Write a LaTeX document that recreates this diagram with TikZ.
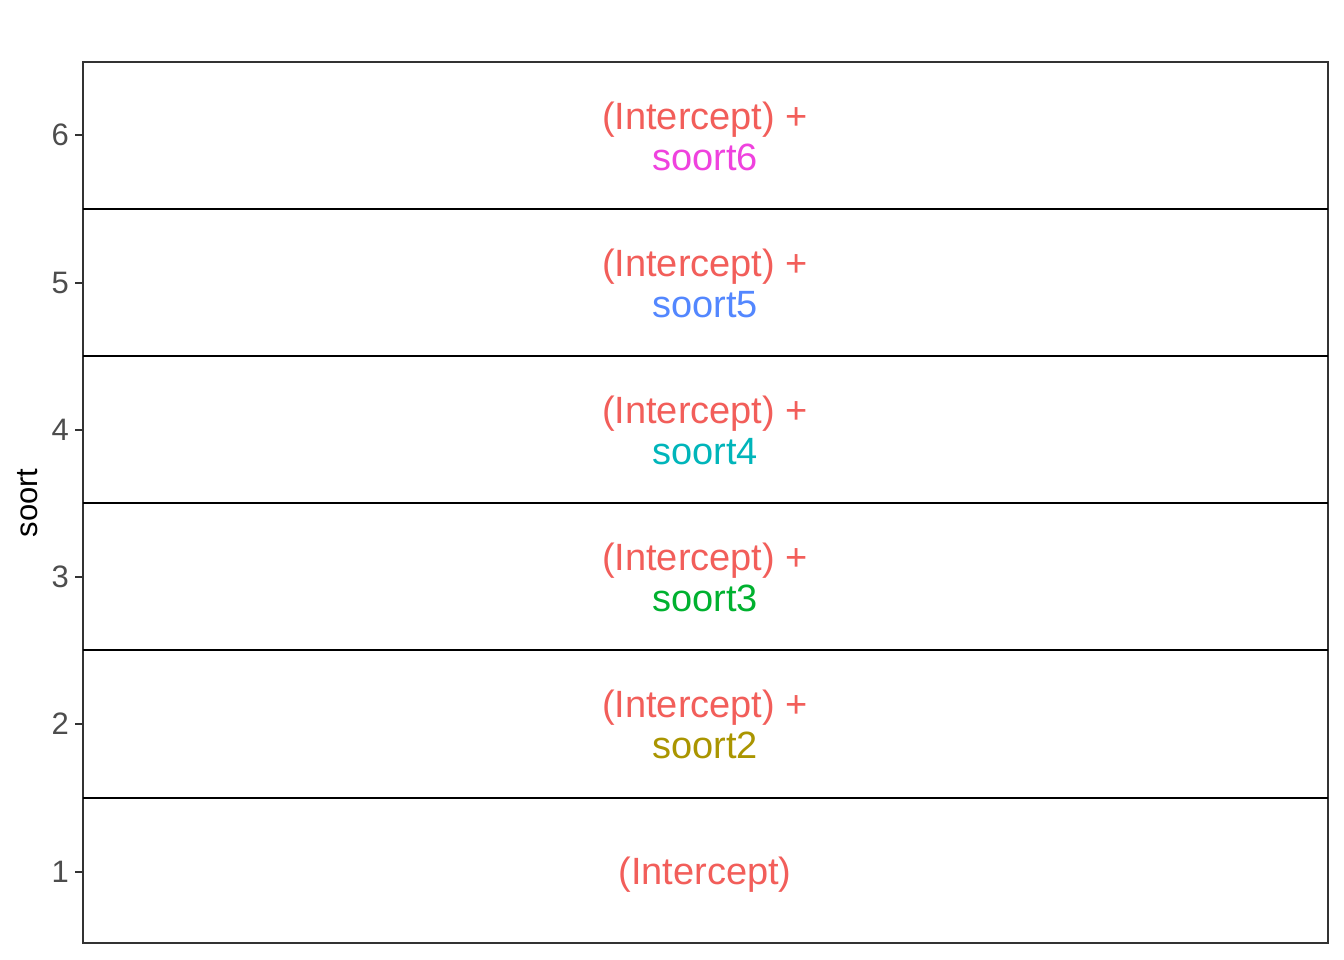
\documentclass[tikz,border=0pt]{standalone}
\usepackage{fontspec}
\setmainfont{Liberation Sans}
\usepackage{xcolor}
\usepackage{tikz}
\usetikzlibrary{positioning}

\definecolor{hueone}{HTML}{F25E5A}
\definecolor{huetwo}{HTML}{AA9500}
\definecolor{huethree}{HTML}{00B12F}
\definecolor{huefour}{HTML}{00B5BA}
\definecolor{huefive}{HTML}{5387FF}
\definecolor{huesix}{HTML}{EF42DE}
\definecolor{axisgrey}{HTML}{333333}
\definecolor{tickgrey}{HTML}{4D4D4D}

\begin{document}
\begin{tikzpicture}[x=1pt,y=-1pt]
			\tikzstyle{TermStyle} = [font=\fontsize{38}{41}\selectfont, align=center, inner sep=0pt, text=hueone]
			\tikzstyle{TickStyle} = [font=\fontsize{31}{36}\selectfont, text=tickgrey, anchor=east, inner sep=0pt]
			\tikzstyle{SplitStyle} = [line width=2.5pt, black]
			\useasboundingbox (0,0) rectangle (1344,960);
			\fill[white] (0,0) rectangle (1344,960);
			% panel
			\coordinate (nw) at (83,62);
			\coordinate (se) at (1328,943);
			\draw[axisgrey, line width=1.1pt] (nw) rectangle (se);
			% row borders
			\coordinate (b56l) at (83,209);  \coordinate (b56r) at (1328,209);
			\coordinate (b45l) at (83,356);  \coordinate (b45r) at (1328,356);
			\coordinate (b34l) at (83,503);  \coordinate (b34r) at (1328,503);
			\coordinate (b23l) at (83,650);  \coordinate (b23r) at (1328,650);
			\coordinate (b12l) at (83,798);  \coordinate (b12r) at (1328,798);
			\draw[SplitStyle] (b56l) -- (b56r);
			\draw[SplitStyle] (b45l) -- (b45r);
			\draw[SplitStyle] (b34l) -- (b34r);
			\draw[SplitStyle] (b23l) -- (b23r);
			\draw[SplitStyle] (b12l) -- (b12r);
			% terms
			\node[TermStyle] (term6) at (705,136) {(Intercept) +\\\textcolor{huesix}{soort6}};
			\node[TermStyle] (term5) at (705,283) {(Intercept) +\\\textcolor{huefive}{soort5}};
			\node[TermStyle] (term4) at (705,430) {(Intercept) +\\\textcolor{huefour}{soort4}};
			\node[TermStyle] (term3) at (705,577) {(Intercept) +\\\textcolor{huethree}{soort3}};
			\node[TermStyle] (term2) at (705,724) {(Intercept) +\\\textcolor{huetwo}{soort2}};
			\node[TermStyle] (term1) at (705,875) {(Intercept)};
			% y axis
			\foreach \k/\y in {6/135,5/283,4/430,3/577,2/724,1/872} {
				\draw[axisgrey, line width=2pt] (75,\y) -- (83,\y);
				\node[TickStyle] (tick\k) at (69,\y) {\k};
			}
			\node[font=\fontsize{31}{36}\selectfont, rotate=90, inner sep=0pt] (ytitle) at (28,503) {soort};
		\end{tikzpicture}
\end{document}
